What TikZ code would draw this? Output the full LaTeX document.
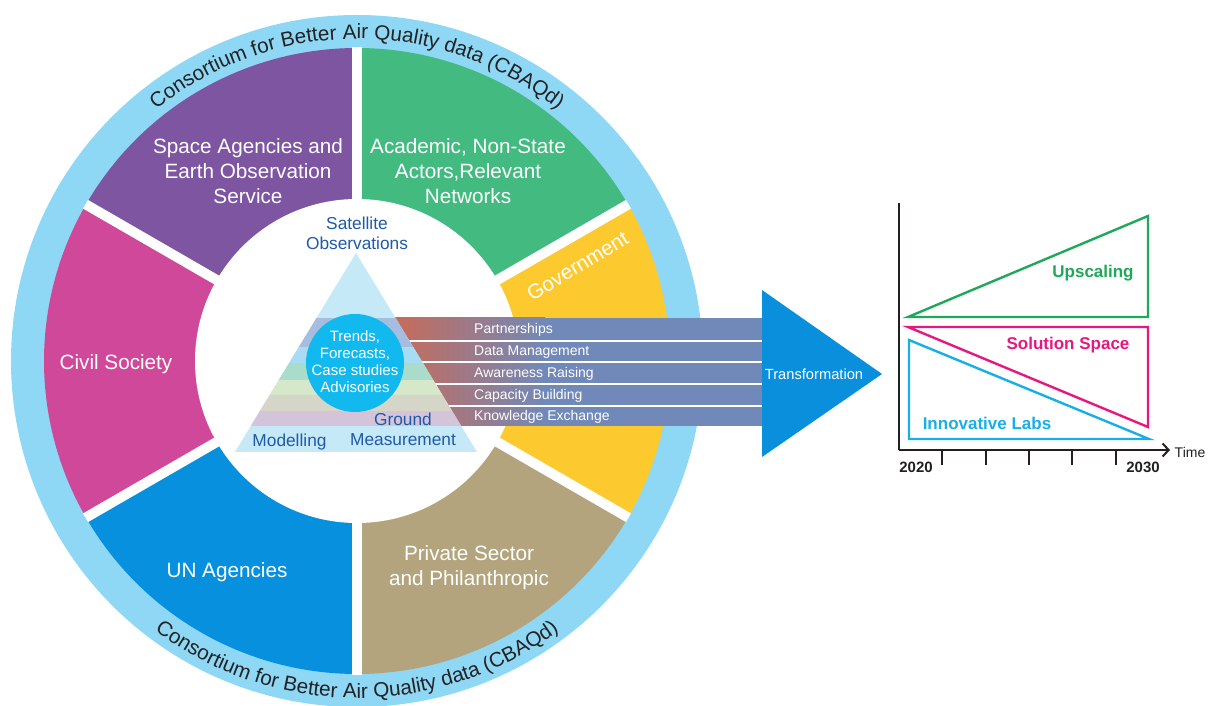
\documentclass[tikz,border=0pt]{standalone}
\usepackage{fontspec}
\setmainfont{Liberation Sans}
\usetikzlibrary{decorations.text,arrows.meta}

% palette
\definecolor{ringblue}{HTML}{8ED8F6}
\definecolor{secpurple}{HTML}{7E55A0}
\definecolor{secgreen}{HTML}{43BA80}
\definecolor{secyellow}{HTML}{FCCA2E}
\definecolor{sectan}{HTML}{B3A47D}
\definecolor{secblue}{HTML}{0790DD}
\definecolor{secmagenta}{HTML}{CF4899}
\definecolor{ringtext}{HTML}{222222}
\definecolor{pyrbase}{HTML}{C6E9F8}
\definecolor{pyrA}{HTML}{A7BDE0}
\definecolor{pyrB}{HTML}{A7DCF4}
\definecolor{pyrC}{HTML}{A9DCCA}
\definecolor{pyrD}{HTML}{D5E8C9}
\definecolor{pyrE}{HTML}{D5D6C7}
\definecolor{pyrF}{HTML}{D3C4DA}
\definecolor{hubcyan}{HTML}{12B9EE}
\definecolor{navytext}{HTML}{1F5AA7}
\definecolor{bandred}{HTML}{C96A58}
\definecolor{bandblue}{HTML}{7189B8}
\definecolor{arrowblue}{HTML}{0A8FDC}
\definecolor{chartgreen}{HTML}{1FA85A}
\definecolor{chartpink}{HTML}{E6187F}
\definecolor{chartcyan}{HTML}{19AEE5}
\definecolor{axisdark}{HTML}{231F20}

\newcommand\ringfont{\fontsize{20.7}{24}\selectfont}

\tikzset{
  seclabel/.style={text=white, align=center, inner sep=0pt,
    font=\fontsize{20.7}{25}\selectfont},
  pyrlabel/.style={text=navytext, align=center, inner sep=0pt,
    font=\fontsize{17.3}{20}\selectfont},
  hublabel/.style={text=white, align=center, inner sep=0pt,
    font=\fontsize{15}{17}\selectfont},
  bandlabel/.style={text=white, anchor=base west, inner sep=0pt,
    font=\fontsize{14}{16}\selectfont},
  bandsep/.style={white, line width=2pt},
  gapline/.style={white, line width=10pt},
  chartline/.style={line width=2.4pt, line join=miter},
  chartlabel/.style={inner sep=0pt, font=\bfseries\fontsize{17}{20}\selectfont},
  yearlabel/.style={inner sep=0pt, text=axisdark, font=\bfseries\fontsize{15}{18}\selectfont},
  ringlabel/.style={decorate, decoration={text along path, text align=center,
    text color=ringtext}}
}

\begin{document}
\begin{tikzpicture}[x=1pt, y=1pt]
\useasboundingbox (0,0) rectangle (1213,705);

% ---------- stakeholder wheel ----------
\begin{scope}[shift={(357,344)}]
  \fill[ringblue] (0,0) circle[radius=346pt];
  \fill[secgreen]   (0,0) -- (30:313)  arc[start angle=30,  end angle=90,  radius=313pt] -- cycle;
  \fill[secpurple]  (0,0) -- (90:313)  arc[start angle=90,  end angle=150, radius=313pt] -- cycle;
  \fill[secmagenta] (0,0) -- (150:313) arc[start angle=150, end angle=210, radius=313pt] -- cycle;
  \fill[secblue]    (0,0) -- (210:313) arc[start angle=210, end angle=270, radius=313pt] -- cycle;
  \fill[sectan]     (0,0) -- (270:313) arc[start angle=270, end angle=330, radius=313pt] -- cycle;
  \fill[secyellow]  (0,0) -- (330:313) arc[start angle=330, end angle=390, radius=313pt] -- cycle;
  \foreach \a in {30,90,150,210,270,330}
    \draw[gapline] (0,0) -- (\a:313.5);
  \fill[white] (0,0) circle[radius=162pt];

  % consortium name around the rim
  \path[ringlabel, decoration={text={|\ringfont|Consortium for Better Air Quality data (CBAQd)}}]
    (157:322) arc[start angle=157, end angle=23, radius=322pt];
  \path[ringlabel, decoration={text={|\ringfont|Consortium for Better Air Quality data (CBAQd)}}]
    (203:337) arc[start angle=203, end angle=337, radius=337pt];
\end{scope}

% sector names
\node[seclabel] (space)   at (248,534) {Space Agencies and\\Earth Observation\\Service};
\node[seclabel] (academic) at (468,534) {Academic, Non-State\\Actors,Relevant\\Networks};
\node[seclabel] (civil)   at (116,341) {Civil Society};
\node[seclabel] (un)      at (227,133) {UN Agencies};
\node[seclabel] (private) at (469,137) {Private Sector\\and Philanthropic};
\node[seclabel, rotate=31] (gov) at (577.5,439) {Government};

% ---------- action bands ----------
\shade[left color=bandred, right color=bandblue] (393,279) rectangle (545,387);
\fill[bandblue] (544,279) rectangle (762,387);
\foreach \yy in {364,342.5,321,299}
  \draw[bandsep] (400,\yy) -- (762,\yy);

% transformation arrow head
\fill[arrowblue] (762,415) -- (882,331) -- (762,248) -- cycle;
\node[text=white, inner sep=0pt, font=\fontsize{14.7}{17}\selectfont] (transf) at (814,331) {Transformation};

% ---------- data pyramid ----------
\fill[pyrbase] (356,452) -- (235,253) -- (477,253) -- cycle;
\begin{scope}
  \clip (356,452) -- (235,253) -- (477,253) -- cycle;
  \fill[pyrA] (220,387) rectangle (500,358);
  \fill[pyrB] (220,358) rectangle (500,342);
  \fill[pyrC] (220,342) rectangle (500,325);
  \fill[pyrD] (220,325) rectangle (500,310);
  \fill[pyrE] (220,310) rectangle (500,294);
  \fill[pyrF] (220,294) rectangle (500,279);
\end{scope}
\fill[hubcyan] (355,342) circle[radius=49pt];
\node[hublabel] (hub) at (355,343.5) {Trends,\\Forecasts,\\Case studies\\Advisories};

\node[pyrlabel] (sat)    at (357,472) {Satellite\\Observations};
\node[pyrlabel] (ground) at (403,286) {Ground};
\node[pyrlabel] (meas)   at (403,265) {Measurement};
\node[pyrlabel] (model)  at (289.5,263) {Modelling};

% band labels
\node[bandlabel] (b1) at (474,371) {Partnerships};
\node[bandlabel] (b2) at (474,349) {Data Management};
\node[bandlabel] (b3) at (474,327) {Awareness Raising};
\node[bandlabel] (b4) at (474,305) {Capacity Building};
\node[bandlabel] (b5) at (474,284) {Knowledge Exchange};

% ---------- timeline chart ----------
\coordinate (origin) at (899,255);
\coordinate (ytop) at (899,502);
\coordinate (xend) at (1170,255);
\draw[axisdark, line width=2pt] (ytop) -- (origin);
\draw[axisdark, line width=2pt, -{Straight Barb[length=6pt, width=13pt]}] (origin) -- (xend);
\foreach \tx in {942,986,1029,1072,1116}
  \draw[axisdark, line width=2pt] (\tx,255) -- (\tx,240);

\draw[chartline, chartgreen] (908,388) -- (1148,489) -- (1148,388) -- cycle;
\draw[chartline, chartpink]  (908,378) -- (1148,378) -- (1148,278) -- cycle;
\draw[chartline, chartcyan]  (909,365) -- (909,266) -- (1149,266) -- cycle;

\node[chartlabel, text=chartgreen] (upscale) at (1093,432) {Upscaling};
\node[chartlabel, text=chartpink]  (solspace) at (1068,360) {Solution Space};
\node[chartlabel, text=chartcyan]  (innolabs) at (987,282) {Innovative Labs};

\node[yearlabel] (y2020) at (916,238) {2020};
\node[yearlabel] (y2030) at (1143,238) {2030};
\node[inner sep=0pt, text=axisdark, font=\fontsize{14}{16}\selectfont] (time) at (1190,253) {Time};
\end{tikzpicture}
\end{document}
